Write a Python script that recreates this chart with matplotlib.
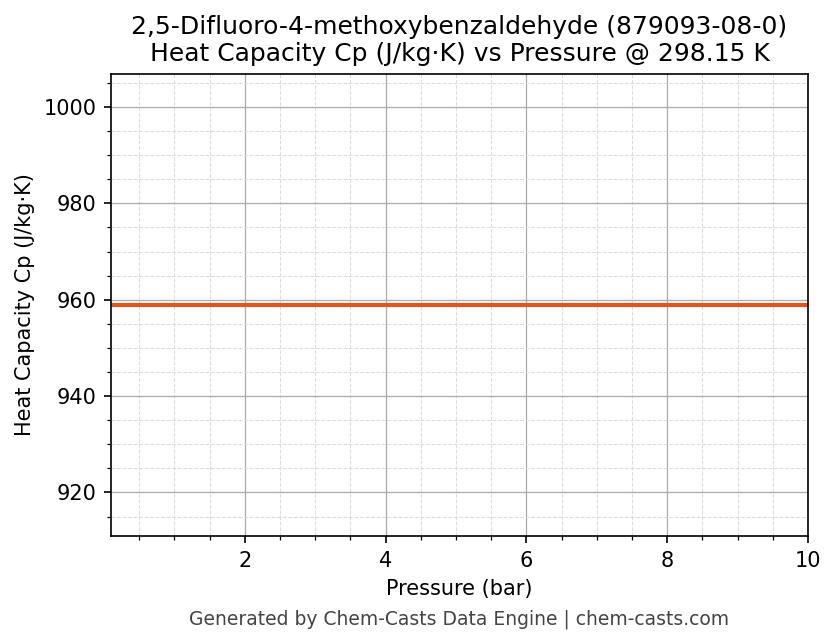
import matplotlib
matplotlib.use("Agg")
import matplotlib.pyplot as plt
from matplotlib.ticker import AutoMinorLocator
import numpy as np

# data
pressure_bar = [0.1, 2.0, 4.0, 6.0, 8.0, 10.0]
cp_values = [958.9, 958.9, 958.9, 958.9, 958.9, 958.9]

compound = "2,5-Difluoro-4-methoxybenzaldehyde (879093-08-0)"
subtitle = "Heat Capacity Cp (J/kg\u00b7K) vs Pressure @ 298.15 K"

fig = plt.figure(figsize=(8.36 / 1.5, 6.44 / 1.5), dpi=150)
ax = fig.add_axes([111 / 836, 1 - 536 / 644, (808 - 111) / 836, (536 - 74) / 644])

ax.plot(pressure_bar, cp_values, color="#e0561f", linewidth=2)

cp = np.mean(cp_values)
ax.set_ylim(cp * 0.95, cp * 1.05)
ax.set_xlim(min(pressure_bar), max(pressure_bar))

ax.xaxis.set_minor_locator(AutoMinorLocator())
ax.yaxis.set_minor_locator(AutoMinorLocator())
ax.grid(True, which="major", color="#aaaaaa", linewidth=0.6)
ax.grid(True, which="minor", color="#dcdcdc", linestyle="--", linewidth=0.5)

ax.set_xlabel("Pressure (bar)", fontsize=10)
ax.set_ylabel("Heat Capacity Cp (J/kg\u00b7K)", fontsize=10)
ax.set_title(compound + "\n" + subtitle, fontsize=12)

fig.text(459.5 / 836, 1 - 619 / 644, "Generated by Chem-Casts Data Engine | chem-casts.com",
         ha="center", va="center", fontsize=9, color="#444444")

fig.savefig("out.png", dpi=150)
